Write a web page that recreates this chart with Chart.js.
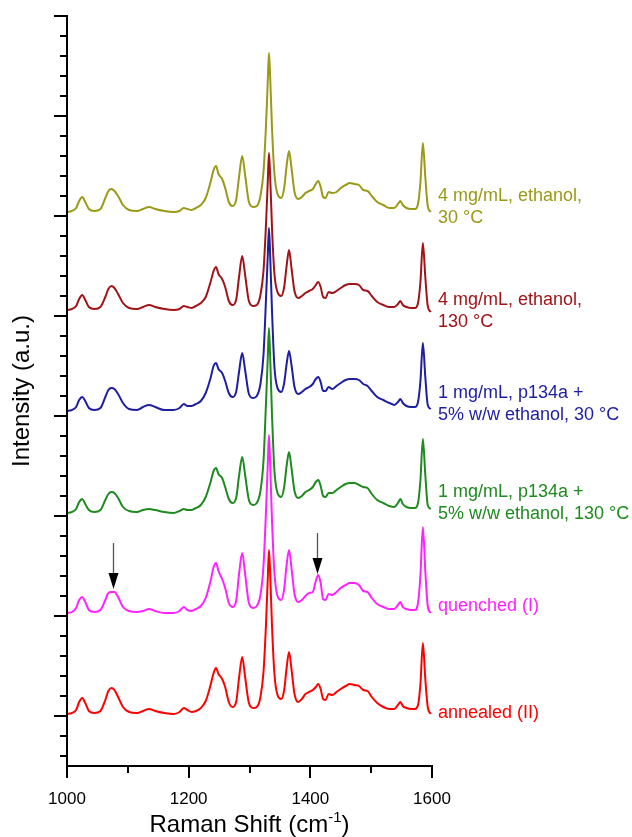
<!DOCTYPE html>
<html>
<head>
<meta charset="utf-8">
<script src="https://cdn.jsdelivr.net/npm/chart.js@4.4.1/dist/chart.umd.min.js"></script>
<style>
  html, body { margin: 0; padding: 0; background: #fff; }
  #wrap { position: relative; width: 632px; height: 837px; }
</style>
</head>
<body>
<div id="wrap"><canvas id="raman"></canvas></div>
<script>
// Raman shift grid (cm-1), shared by every spectrum
const SHIFT = [1000,1008,1015,1020,1025,1030,1036,1045,1055,1063,1068,1073,1078,1084,1092,1102,1115,1125,1135,1145,
  1160,1175,1185,1192,1198,1205,1212,1220,1228,1236,1241,1245,1249,1255,1260,1266,1272,1278,1283,1288,
  1293,1299,1306,1312,1318,1323,1327,1330,1332,1334,1337,1341,1346,1352,1357,1361,1365,1369,1374,1380,
  1386,1392,1398,1404,1409,1413,1417,1421,1425,1430,1436,1443,1450,1458,1465,1472,1480,1487,1494,1501,
  1510,1520,1530,1538,1544,1548,1552,1558,1566,1572,1577,1581,1585,1589,1593,1598];

// intensities (a.u.), baseline-relative
const ANNEALED = [0.00,0.01,0.04,0.12,0.16,0.11,0.03,0.01,0.03,0.14,0.23,0.26,0.24,0.17,0.07,0.02,0.01,0.03,0.05,0.03,
  0.01,0.00,0.02,0.06,0.04,0.02,0.03,0.06,0.13,0.29,0.41,0.46,0.40,0.35,0.27,0.12,0.07,0.12,0.37,0.57,
  0.36,0.11,0.06,0.07,0.17,0.42,0.88,1.35,1.64,1.40,0.88,0.40,0.19,0.15,0.24,0.46,0.62,0.45,0.20,0.12,
  0.15,0.20,0.22,0.24,0.27,0.30,0.25,0.15,0.14,0.20,0.19,0.22,0.25,0.28,0.30,0.29,0.28,0.24,0.23,0.17,
  0.11,0.07,0.05,0.05,0.09,0.12,0.08,0.06,0.05,0.05,0.09,0.30,0.71,0.35,0.07,0.00];

const QUENCHED = [0.00,0.01,0.05,0.13,0.16,0.11,0.03,0.01,0.03,0.13,0.20,0.21,0.21,0.16,0.06,0.02,0.01,0.02,0.04,0.02,
  0.00,0.00,0.02,0.06,0.03,0.02,0.04,0.07,0.15,0.32,0.46,0.50,0.42,0.34,0.25,0.10,0.06,0.12,0.40,0.60,
  0.38,0.10,0.05,0.07,0.18,0.47,1.00,1.48,1.78,1.48,0.92,0.40,0.17,0.13,0.24,0.48,0.63,0.45,0.19,0.11,
  0.13,0.17,0.20,0.21,0.32,0.38,0.30,0.14,0.13,0.19,0.18,0.21,0.25,0.28,0.30,0.30,0.28,0.22,0.21,0.15,
  0.09,0.06,0.04,0.04,0.08,0.11,0.06,0.04,0.03,0.03,0.10,0.38,0.86,0.42,0.07,0.00];

const P134A_130 = [0.00,0.01,0.04,0.11,0.14,0.09,0.03,0.01,0.03,0.13,0.19,0.21,0.20,0.15,0.06,0.02,0.01,0.03,0.04,0.03,
  0.01,0.00,0.02,0.04,0.03,0.03,0.05,0.08,0.16,0.31,0.42,0.45,0.39,0.35,0.26,0.14,0.10,0.15,0.38,0.56,
  0.37,0.13,0.08,0.10,0.22,0.52,1.08,1.55,1.85,1.55,0.98,0.42,0.20,0.16,0.26,0.47,0.61,0.45,0.22,0.15,
  0.17,0.21,0.23,0.26,0.31,0.33,0.27,0.17,0.16,0.20,0.20,0.23,0.26,0.29,0.30,0.30,0.28,0.26,0.25,0.19,
  0.13,0.10,0.07,0.06,0.10,0.14,0.09,0.06,0.05,0.05,0.10,0.33,0.74,0.38,0.08,0.04];

const P134A_30 = [0.00,0.01,0.04,0.11,0.14,0.10,0.03,0.01,0.03,0.14,0.21,0.23,0.22,0.17,0.08,0.02,0.01,0.04,0.06,0.04,
  0.01,0.01,0.03,0.07,0.05,0.05,0.07,0.10,0.18,0.33,0.45,0.48,0.42,0.38,0.30,0.18,0.14,0.19,0.40,0.58,
  0.40,0.17,0.13,0.15,0.27,0.56,1.10,1.55,1.83,1.55,1.00,0.44,0.23,0.19,0.28,0.47,0.60,0.46,0.24,0.17,
  0.19,0.22,0.24,0.27,0.32,0.34,0.29,0.20,0.20,0.24,0.22,0.25,0.28,0.31,0.32,0.32,0.31,0.27,0.25,0.20,
  0.14,0.11,0.08,0.06,0.09,0.12,0.08,0.05,0.04,0.04,0.09,0.30,0.68,0.34,0.06,0.02];

const ETOH_130 = [0.00,0.01,0.04,0.11,0.15,0.10,0.03,0.01,0.03,0.13,0.21,0.24,0.22,0.16,0.07,0.02,0.01,0.03,0.05,0.03,
  0.01,0.00,0.01,0.04,0.03,0.02,0.04,0.07,0.13,0.28,0.39,0.43,0.36,0.31,0.23,0.09,0.05,0.10,0.34,0.54,
  0.34,0.09,0.04,0.05,0.15,0.39,0.84,1.28,1.57,1.33,0.82,0.36,0.18,0.14,0.23,0.44,0.60,0.42,0.19,0.12,
  0.14,0.17,0.19,0.21,0.25,0.28,0.23,0.13,0.12,0.18,0.17,0.19,0.22,0.25,0.26,0.26,0.25,0.20,0.19,0.14,
  0.08,0.05,0.03,0.03,0.06,0.09,0.05,0.03,0.02,0.02,0.07,0.28,0.67,0.33,0.04,-0.02];

const ETOH_30 = [0.00,0.01,0.04,0.11,0.15,0.10,0.03,0.01,0.03,0.14,0.21,0.23,0.21,0.16,0.07,0.02,0.01,0.03,0.05,0.03,
  0.01,0.00,0.01,0.04,0.03,0.02,0.04,0.07,0.14,0.30,0.42,0.46,0.38,0.33,0.24,0.10,0.06,0.12,0.36,0.56,
  0.36,0.10,0.05,0.06,0.16,0.40,0.85,1.30,1.59,1.35,0.84,0.38,0.18,0.14,0.24,0.46,0.61,0.44,0.20,0.13,
  0.15,0.19,0.21,0.23,0.28,0.31,0.25,0.15,0.14,0.20,0.19,0.20,0.24,0.27,0.29,0.28,0.27,0.22,0.21,0.16,
  0.10,0.07,0.04,0.04,0.08,0.11,0.07,0.04,0.03,0.03,0.08,0.30,0.69,0.35,0.06,0.00];

// bottom to top
const SPECTRA = [ANNEALED, QUENCHED, P134A_130, P134A_30, ETOH_130, ETOH_30];
const OFFSETS = [0.02, 1.03, 2.03, 3.05, 4.06, 5.04];
const LABELS = [
  ["annealed (II)"],
  ["quenched (I)"],
  ["1 mg/mL, p134a +", "5% w/w ethanol, 130 °C"],
  ["1 mg/mL, p134a +", "5% w/w ethanol, 30 °C"],
  ["4 mg/mL, ethanol,", "130 °C"],
  ["4 mg/mL, ethanol,", "30 °C"]
];
const LABEL_Y = [0.03, 1.10, 2.24, 3.23, 4.16, 5.20];
const COLORS = ["#FF0000", "#FF22FF", "#1F8A1F", "#1E1EA0", "#A01418", "#9A9A18"];

// arrows on the quenched trace: shift, tail, tip
const ARROWS = [
  { x: 1075, from: 1.73, to: 1.27 },
  { x: 1411, from: 1.83, to: 1.42 }
];

const X_MIN = 1000, X_MAX = 1600, Y_MIN = -0.5, Y_MAX = 7;
const X_MAJOR = [1000, 1200, 1400, 1600];
const X_MINOR = [1100, 1300, 1500];

const FONT = "'Liberation Sans', Arial, sans-serif";

const datasets = SPECTRA.map((vals, i) => ({
  label: LABELS[i].join(" "),
  data: SHIFT.map((s, k) => ({ x: s, y: vals[k] + OFFSETS[i] })),
  borderColor: COLORS[i],
  borderWidth: 2,
  pointRadius: 0,
  cubicInterpolationMode: "monotone",
  fill: false
}));

const decorations = {
  id: "ramanDecor",
  afterDatasetsDraw(chart) {
    const { ctx, chartArea: a, scales: { x, y } } = chart;
    ctx.save();

    // arrows
    ARROWS.forEach(ar => {
      const px = Math.round(x.getPixelForValue(ar.x)) + 0.5;
      const top = y.getPixelForValue(ar.from);
      const tip = y.getPixelForValue(ar.to);
      ctx.strokeStyle = "#555";
      ctx.lineWidth = 1.3;
      ctx.beginPath();
      ctx.moveTo(px, top);
      ctx.lineTo(px, tip - 12);
      ctx.stroke();
      ctx.fillStyle = "#000";
      ctx.beginPath();
      ctx.moveTo(px - 5, tip - 16);
      ctx.lineTo(px + 5, tip - 16);
      ctx.lineTo(px, tip);
      ctx.closePath();
      ctx.fill();
    });

    // series labels
    ctx.font = "18px " + FONT;
    ctx.textAlign = "left";
    ctx.textBaseline = "middle";
    LABELS.forEach((lines, i) => {
      ctx.fillStyle = COLORS[i];
      const lx = x.getPixelForValue(X_MAX) + 6;
      const ly = y.getPixelForValue(LABEL_Y[i]);
      lines.forEach((t, j) => ctx.fillText(t, lx, ly + j * 22));
    });

    // axes
    ctx.strokeStyle = "#000";
    ctx.lineWidth = 2;
    ctx.beginPath();
    ctx.moveTo(a.left, y.getPixelForValue(Y_MAX) - 1);
    ctx.lineTo(a.left, a.bottom);
    ctx.lineTo(a.right + 1, a.bottom);
    ctx.stroke();

    // y ticks: major every 1, minor every 0.2
    for (let k = -2; k <= 35; k++) {
      const v = k / 5;
      const py = Math.round(y.getPixelForValue(v));
      const len = k % 5 === 0 ? 13 : 7;
      ctx.beginPath();
      ctx.moveTo(a.left, py);
      ctx.lineTo(a.left - len, py);
      ctx.stroke();
    }

    // x ticks
    X_MAJOR.concat(X_MINOR).forEach(v => {
      const px = Math.round(x.getPixelForValue(v));
      const len = X_MAJOR.includes(v) ? 12 : 7;
      ctx.beginPath();
      ctx.moveTo(px, a.bottom);
      ctx.lineTo(px, a.bottom + len);
      ctx.stroke();
    });

    ctx.fillStyle = "#000";
    ctx.font = "17px " + FONT;
    ctx.textAlign = "center";
    ctx.textBaseline = "alphabetic";
    X_MAJOR.forEach(v => ctx.fillText(String(v), x.getPixelForValue(v), a.bottom + 38));

    // x title with superscript
    const cx = (a.left + a.right) / 2;
    ctx.font = "24px " + FONT;
    const main = "Raman Shift (cm";
    const wMain = ctx.measureText(main).width;
    ctx.font = "15px " + FONT;
    const wSup = ctx.measureText("-1").width;
    ctx.font = "24px " + FONT;
    const wEnd = ctx.measureText(")").width;
    let sx = cx - (wMain + wSup + wEnd) / 2;
    const by = a.bottom + 66;
    ctx.textAlign = "left";
    ctx.fillText(main, sx, by);
    sx += wMain;
    ctx.font = "15px " + FONT;
    ctx.fillText("-1", sx, by - 10);
    sx += wSup;
    ctx.font = "24px " + FONT;
    ctx.fillText(")", sx, by);

    // y title
    ctx.save();
    ctx.translate(22, (a.top + a.bottom) / 2);
    ctx.rotate(-Math.PI / 2);
    ctx.textAlign = "center";
    ctx.textBaseline = "middle";
    ctx.fillText("Intensity (a.u.)", 0, 0);
    ctx.restore();

    ctx.restore();
  }
};

new Chart(document.getElementById("raman"), {
  type: "line",
  data: { datasets },
  options: {
    responsive: true,
    maintainAspectRatio: false,
    animation: false,
    layout: { padding: { left: 67, right: 200, top: 16, bottom: 71 } },
    plugins: { legend: { display: false }, tooltip: { enabled: false } },
    scales: {
      x: { type: "linear", min: X_MIN, max: X_MAX, display: false },
      y: { type: "linear", min: Y_MIN, max: Y_MAX, display: false }
    }
  },
  plugins: [decorations]
});
</script>
</body>
</html>
